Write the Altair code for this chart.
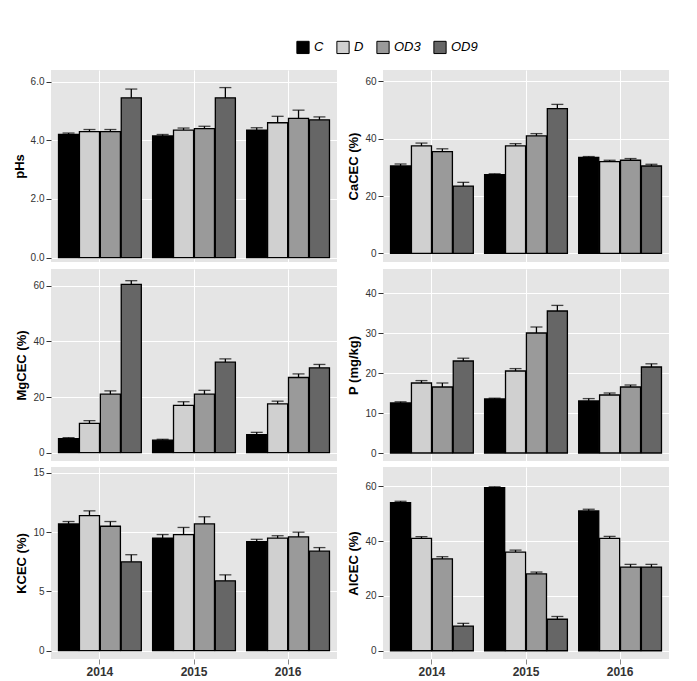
import altair as alt
import pandas as pd

years = ["2014", "2015", "2016"]
treatments = ["C", "D", "OD3", "OD9"]
colors = ["#000000", "#d0d0d0", "#9a9a9a", "#666666"]

panels = {
    "pHs": ([4.2, 4.3, 4.3, 5.45, 4.15, 4.35, 4.4, 5.45, 4.35, 4.6, 4.75, 4.7],
            [0.05, 0.07, 0.07, 0.3, 0.05, 0.07, 0.08, 0.35, 0.08, 0.22, 0.28, 0.1],
            [-0.15, 6.4], [0, 2, 4, 6], ".1f"),
    "CaCEC (%)": ([30.5, 37.5, 35.5, 23.5, 27.5, 37.5, 41, 50.5, 33.5, 32, 32.5, 30.5],
                  [0.7, 1.0, 1.0, 1.3, 0.3, 0.8, 0.8, 1.5, 0.3, 0.5, 0.6, 0.6],
                  [-3, 64], [0, 20, 40, 60], "d"),
    "MgCEC (%)": ([5, 10.5, 21, 60.5, 4.5, 17, 21, 32.5, 6.5, 17.5, 27, 30.5],
                  [0.4, 1.0, 1.2, 1.3, 0.3, 1.3, 1.4, 1.2, 0.8, 1.0, 1.3, 1.2],
                  [-3, 66], [0, 20, 40, 60], "d"),
    "P (mg/kg)": ([12.5, 17.5, 16.5, 23, 13.5, 20.5, 30, 35.5, 13, 14.5, 16.5, 21.5],
                  [0.3, 0.6, 1.0, 0.7, 0.2, 0.6, 1.5, 1.4, 0.6, 0.5, 0.5, 0.8],
                  [-2, 46], [0, 10, 20, 30, 40], "d"),
    "KCEC (%)": ([10.7, 11.4, 10.5, 7.5, 9.5, 9.8, 10.7, 5.9, 9.2, 9.5, 9.6, 8.4],
                 [0.2, 0.4, 0.4, 0.6, 0.3, 0.6, 0.6, 0.5, 0.2, 0.2, 0.4, 0.3],
                 [-0.7, 15.5], [0, 5, 10, 15], "d"),
    "AlCEC (%)": ([54, 41, 33.5, 9, 59.5, 36, 28, 11.5, 51, 41, 30.5, 30.5],
                  [0.5, 0.6, 0.8, 1.0, 0.3, 0.7, 0.7, 1.0, 0.6, 0.7, 1.0, 1.0],
                  [-3, 67], [0, 20, 40, 60], "d"),
}

order = ["pHs", "CaCEC (%)", "MgCEC (%)", "P (mg/kg)", "KCEC (%)", "AlCEC (%)"]


def panel(name, bottom):
    vals, errs, dom, ticks, fmt = panels[name]
    rows = []
    i = 0
    for y in years:
        for t in treatments:
            rows.append({"year": y, "trt": t, "v": vals[i], "hi": vals[i] + errs[i]})
            i += 1
    df = pd.DataFrame(rows)
    x = alt.X("year:N", title="Year" if bottom else None,
              scale=alt.Scale(paddingInner=0.12, paddingOuter=0.08),
              axis=alt.Axis(labels=bottom, ticks=bottom, labelAngle=0, labelFontWeight="bold",
                            labelFontSize=12, titleFontSize=14, titleFontWeight="bold",
                            labelColor="#333", domain=False, gridColor="white", grid=True,
                            bandPosition=0.5))
    xo = alt.XOffset("trt:N", sort=treatments, scale=alt.Scale(paddingInner=0.04))
    yscale = alt.Scale(domain=dom, nice=False, zero=False)
    base = alt.Chart(df)
    bars = base.mark_bar(stroke="black", strokeWidth=1.3).encode(
        x=x, xOffset=xo,
        y=alt.Y("v:Q", title=name, scale=yscale,
                axis=alt.Axis(values=ticks, format=fmt, titleFontWeight="bold", titleFontSize=13,
                              labelColor="#333", labelFontSize=10, domain=False,
                              gridColor="white", tickColor="#333")),
        y2=alt.datum(0),
        color=alt.Color("trt:N", sort=treatments,
                        scale=alt.Scale(domain=treatments, range=colors),
                        legend=alt.Legend(title=None, orient="none", direction="horizontal",
                                          legendX=245, legendY=-30,
                                          symbolType="square", symbolStrokeColor="black",
                                          symbolStrokeWidth=1, symbolSize=150,
                                          labelFontStyle="italic", labelFontSize=13)),
    )
    rule = base.mark_rule(color="black", strokeWidth=1.3).encode(
        x=x, xOffset=xo, y=alt.Y("v:Q", scale=yscale), y2="hi:Q")
    cap = base.mark_tick(color="black", thickness=1.3, size=12).encode(
        x=x, xOffset=xo, y=alt.Y("hi:Q", scale=yscale))
    return (bars + rule + cap).properties(width=286, height=192)


rows = []
for r in range(3):
    rows.append(alt.hconcat(panel(order[2 * r], r == 2), panel(order[2 * r + 1], r == 2), spacing=10))

chart = alt.vconcat(*rows, spacing=6).properties(
    padding={"top": 32, "left": 5, "right": 5, "bottom": 5}
).configure_view(
    fill="#e5e5e5", stroke=None
).configure_axis(titleColor="black")

chart.save("out.html", embed_options={"renderer": "svg", "actions": False})
